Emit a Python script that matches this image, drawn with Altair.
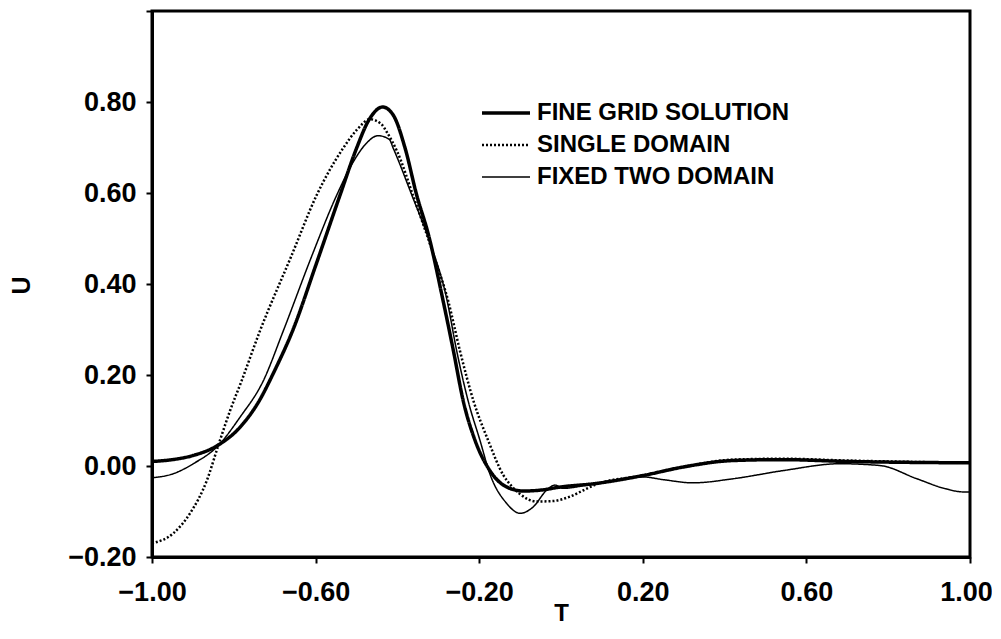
import altair as alt
import pandas as pd

# ---- data ----
series_names = ["FINE GRID SOLUTION", "SINGLE DOMAIN", "FIXED TWO DOMAIN"]

fine_t = [-1.00, -0.95, -0.90, -0.84, -0.785, -0.74, -0.70, -0.655, -0.60, -0.54,
          -0.50, -0.47, -0.436, -0.41, -0.381, -0.353, -0.324, -0.288, -0.263, -0.239,
          -0.21, -0.174, -0.133, -0.092, -0.05, 0.00, 0.08, 0.20, 0.30, 0.42,
          0.54, 0.70, 0.85, 1.00]
fine_u = [0.010, 0.014, 0.023, 0.045, 0.085, 0.140, 0.210, 0.300, 0.440, 0.596,
          0.698, 0.760, 0.789, 0.771, 0.698, 0.596, 0.508, 0.362, 0.253, 0.143,
          0.056, -0.010, -0.046, -0.055, -0.053, -0.046, -0.039, -0.021, -0.002, 0.012,
          0.014, 0.010, 0.008, 0.007]

single_t = [-1.00, -0.948, -0.907, -0.866, -0.838, -0.809, -0.781, -0.736, -0.66, -0.597,
            -0.533, -0.50, -0.467, -0.44, -0.426, -0.40, -0.36, -0.31, -0.275, -0.247,
            -0.214, -0.178, -0.141, -0.12, -0.10, -0.06, -0.02, 0.02, 0.06, 0.09,
            0.20, 0.30, 0.42, 0.54, 0.70, 1.00]
single_u = [-0.170, -0.148, -0.104, -0.032, 0.045, 0.122, 0.187, 0.297, 0.460, 0.596,
            0.698, 0.738, 0.762, 0.752, 0.734, 0.690, 0.590, 0.460, 0.360, 0.253,
            0.143, 0.056, -0.020, -0.045, -0.062, -0.078, -0.077, -0.068, -0.051, -0.039,
            -0.021, -0.002, 0.014, 0.016, 0.012, 0.007]

two_t = [-1.00, -0.948, -0.899, -0.838, -0.785, -0.728, -0.679, -0.61, -0.548, -0.51,
         -0.48, -0.447, -0.42, -0.41, -0.365, -0.32, -0.28, -0.255, -0.227, -0.198,
         -0.174, -0.133, -0.10, -0.068, -0.035, -0.015, 0.006, 0.08, 0.20, 0.25,
         0.323, 0.421, 0.544, 0.682, 0.78, 0.87, 0.94, 0.984, 1.00]
two_u = [-0.026, -0.017, 0.005, 0.045, 0.107, 0.187, 0.297, 0.460, 0.596, 0.665,
         0.705, 0.726, 0.718, 0.698, 0.596, 0.490, 0.370, 0.253, 0.143, 0.056,
         -0.017, -0.082, -0.104, -0.090, -0.053, -0.042, -0.049, -0.039, -0.024, -0.030,
         -0.037, -0.028, -0.010, 0.005, 0.001, -0.028, -0.050, -0.057, -0.057]

x_ticks = [-1.0, -0.6, -0.2, 0.2, 0.6, 1.0]
y_ticks = [-0.2, 0.0, 0.2, 0.4, 0.6, 0.8, 1.0]   # 1.00 tick drawn without label

rows = []
for name, ts, us in zip(series_names, [fine_t, single_t, two_t], [fine_u, single_u, two_u]):
    for t, u in zip(ts, us):
        rows.append({"series": name, "T": t, "U": u})
df = pd.DataFrame(rows)

FONT = "Liberation Sans"

legend = alt.Legend(
    title=None, orient="none", legendX=328, legendY=90,
    labelFont=FONT, labelFontSize=24, labelFontWeight="bold", labelColor="black",
    symbolType="stroke", symbolSize=2304, symbolStrokeColor="black",
    clipHeight=24, labelOffset=5, rowPadding=8, padding=0, labelLimit=400,
)

chart = alt.Chart(df).mark_line(interpolate="monotone").encode(
    x=alt.X("T:Q", scale=alt.Scale(domain=[-1, 1], nice=False, zero=False),
            axis=alt.Axis(values=x_ticks, format=".2f", title="T",
                          labelFlush=False, labelPadding=16,
                          labelOffset={"condition": {"test": "datum.value > 0.9", "value": -4},
                                       "value": 0},
                          titleY=44, titleBaseline="top", titleFontSize=24)),
    y=alt.Y("U:Q", scale=alt.Scale(domain=[-0.2, 1.0], nice=False, zero=False),
            axis=alt.Axis(values=y_ticks, format=".2f", title="U",
                          labelExpr="datum.value > 0.9 ? '' : datum.label",
                          labelFlush=False, labelPadding=10, labelOverlap=False,
                          titleX=-118, titleY=274, titleAngle=270,
                          titleBaseline="bottom")),
    color=alt.Color("series:N", scale=alt.Scale(domain=series_names,
                                                range=["black", "black", "black"]),
                    legend=legend),
    strokeDash=alt.StrokeDash("series:N", scale=alt.Scale(domain=series_names,
                                                          range=[[1, 0], [2, 2], [1, 0]]),
                              legend=legend),
    strokeWidth=alt.StrokeWidth("series:N", scale=alt.Scale(domain=series_names,
                                                            range=[3.5, 1.5, 1.5]),
                                legend=legend),
).properties(
    width=818, height=546,
    autosize=alt.AutoSizeParams(type="none"),
    padding={"left": 144, "top": 3, "right": 22, "bottom": 70},
).configure_view(
    stroke="black", strokeWidth=3,
).configure_axis(
    labelFont=FONT, labelFontSize=27, labelFontWeight="bold", labelColor="black",
    titleFont=FONT, titleFontSize=25, titleFontWeight="bold", titleColor="black",
    domainColor="black", domainWidth=3, tickColor="black", tickWidth=2, tickSize=6,
    grid=False,
)

chart.save("out.html", embed_options={"renderer": "svg", "actions": False})
